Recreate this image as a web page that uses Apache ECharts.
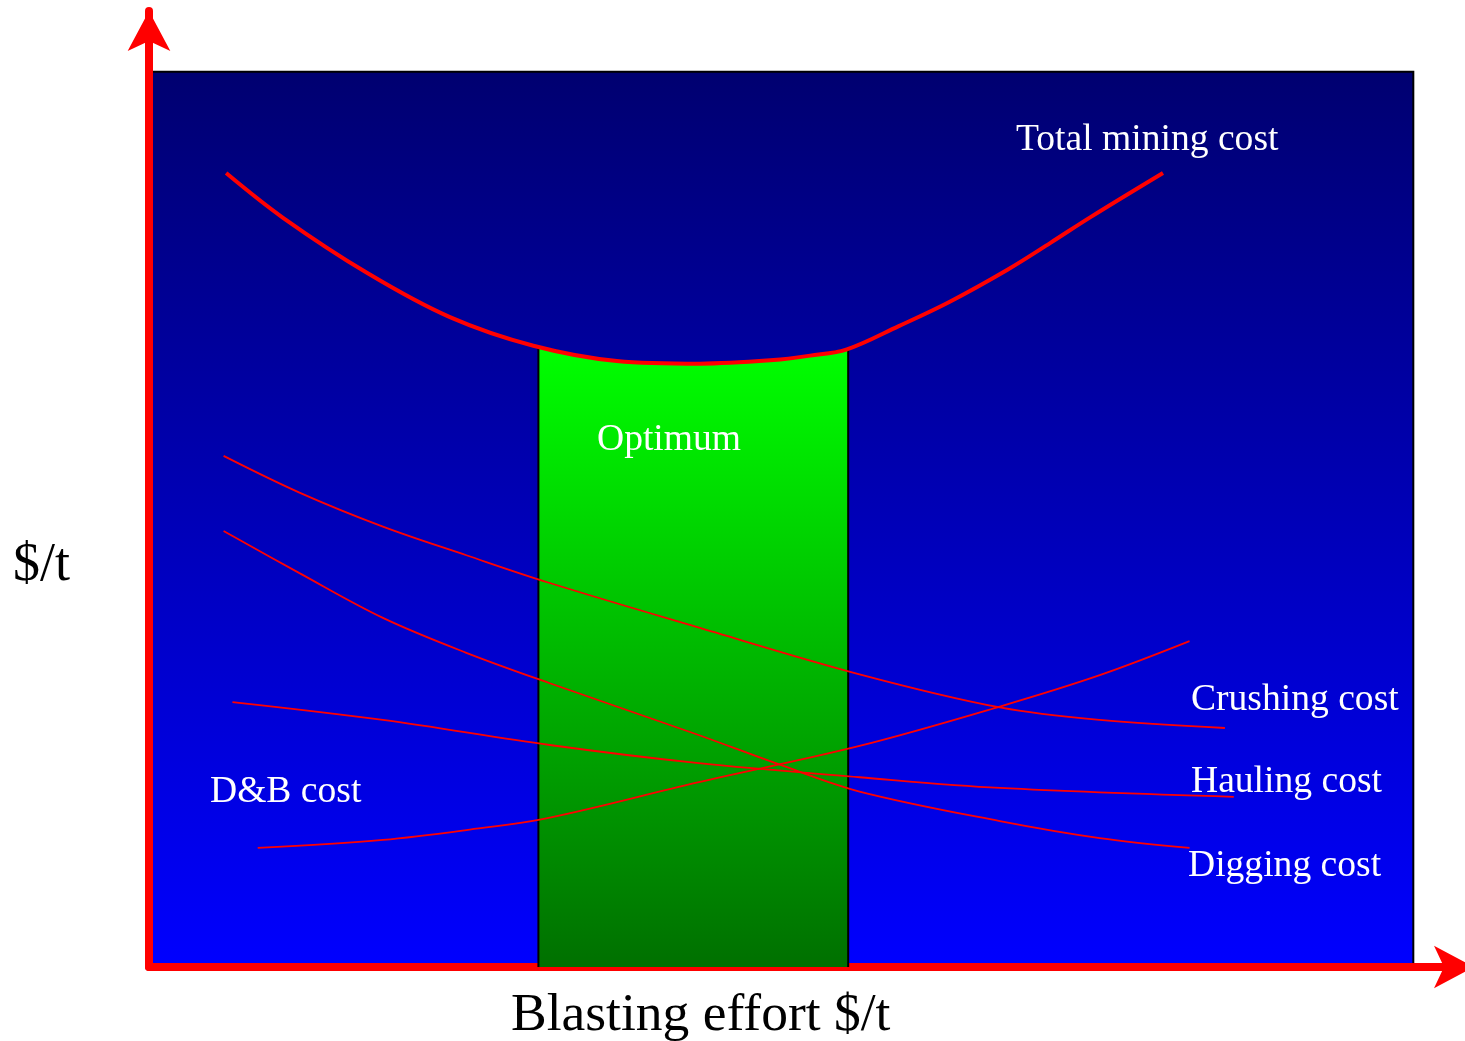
<!DOCTYPE html>
<html>
<head>
<meta charset="utf-8">
<title>Blasting effort vs. mining cost</title>
<script src="https://cdn.jsdelivr.net/npm/echarts@6/dist/echarts.min.js"></script>
<style>
  html, body { margin: 0; padding: 0; background: #ffffff; }
  #chart { width: 1465px; height: 1041px; }
</style>
</head>
<body>
<div id="chart"></div>
<script>
// Cost curves on a relative scale: x = blasting effort (0-100), y = $/t (0-100)
const totalCost    = [[6.1,88.7],[10.6,83.7],[17.3,77.5],[23.8,72.6],[30.4,69.4],[37.0,67.7],[43.6,67.4],[49.4,67.8],[52.3,68.3],[55.2,69.0],[59.3,71.6],[63.3,74.3],[67.9,77.9],[71.3,80.9],[74.5,83.8],[80.2,88.7]];
const crushingCost = [[5.9,57.1],[11.9,53.0],[18.5,49.2],[25.1,46.0],[31.7,42.9],[43.3,38.0],[56.2,32.7],[67.3,29.0],[75.2,27.6],[85.1,26.7]];
const diggingCost  = [[5.9,48.7],[11.9,44.0],[18.5,39.0],[25.1,35.1],[31.7,31.7],[43.3,26.0],[49.9,22.6],[56.2,19.6],[67.3,16.3],[75.2,14.4],[82.3,13.3]];
const haulingCost  = [[6.6,29.6],[18.5,27.6],[31.7,24.8],[43.3,22.8],[56.2,21.2],[67.3,20.0],[85.8,19.0]];
const dbCost       = [[8.6,13.3],[18.5,14.2],[25.1,15.3],[31.7,16.7],[43.3,20.6],[56.2,24.7],[67.3,29.1],[75.2,32.6],[82.3,36.4]];
// Optimum band: lower part of the total-cost bowl
const optimumBand  = [[30.8,69.3],[37.0,67.7],[43.6,67.4],[49.4,67.8],[52.3,68.3],[55.3,69.0]];
// Panel extent
const panelBox     = [0, 0, 100, 100];
// Axis ranges (axis lines run past the panel and end in arrows)
const xRange = [0, 104.8];
const yRange = [0, 106.8];

const SERIF = '"Liberation Serif", "Times New Roman", serif';
const SMOOTH = 0.35;

const chart = echarts.init(document.getElementById('chart'), null, { renderer: 'canvas' });

const bandLeft = optimumBand[0];
const bandRight = optimumBand[optimumBand.length - 1];

function thinLine(data) {
  return {
    type: 'line', data: data, smooth: SMOOTH, symbol: 'none', z: 4,
    lineStyle: { color: '#ff0000', width: 1.8 }, silent: true
  };
}

function label(text, x, y, size, color) {
  return {
    type: 'text', x: x, y: y, z: 100, silent: true,
    style: { text: text, font: size + 'px ' + SERIF, fill: color, align: 'left', verticalAlign: 'middle' }
  };
}

chart.setOption({
  animation: false,
  backgroundColor: '#ffffff',
  grid: { left: 149, width: 1325, top: 11, height: 956, containLabel: false, outerBoundsMode: 'none' },
  xAxis: {
    type: 'value', min: xRange[0], max: xRange[1],
    axisLine: { show: true, onZero: false, symbol: ['none', 'arrow'], symbolSize: [32, 40],
      lineStyle: { color: '#ff0000', width: 8 } },
    axisTick: { show: false }, axisLabel: { show: false }, splitLine: { show: false }
  },
  yAxis: {
    type: 'value', min: yRange[0], max: yRange[1],
    axisLine: { show: true, onZero: false, symbol: ['none', 'arrow'], symbolSize: [32, 40],
      lineStyle: { color: '#ff0000', width: 8 } },
    axisTick: { show: false }, axisLabel: { show: false }, splitLine: { show: false }
  },
  series: [
    {
      // dark-to-bright blue panel
      type: 'custom', z: 0, silent: true,
      data: [panelBox],
      renderItem: function (params, api) {
        const p0 = api.coord([api.value(0), api.value(3)]);
        const p1 = api.coord([api.value(2), api.value(1)]);
        return {
          type: 'rect',
          shape: { x: p0[0], y: p0[1], width: p1[0] - p0[0], height: p1[1] - p0[1] },
          style: {
            fill: new echarts.graphic.LinearGradient(0, 0, 0, 1, [
              { offset: 0, color: '#000070' },
              { offset: 1, color: '#0000ff' }
            ]),
            stroke: '#000000', lineWidth: 2
          }
        };
      }
    },
    {
      // optimum band
      type: 'line', data: optimumBand, smooth: SMOOTH, symbol: 'none', z: 2, silent: true,
      lineStyle: { color: '#000000', width: 2 },
      areaStyle: {
        origin: 'start', opacity: 1,
        color: new echarts.graphic.LinearGradient(0, 0, 0, 1, [
          { offset: 0, color: '#00ff00' },
          { offset: 1, color: '#007000' }
        ])
      }
    },
    {
      type: 'line', data: [[bandLeft[0], 0], bandLeft], symbol: 'none', z: 3, silent: true,
      lineStyle: { color: '#000000', width: 2 }
    },
    {
      type: 'line', data: [[bandRight[0], 0], bandRight], symbol: 'none', z: 3, silent: true,
      lineStyle: { color: '#000000', width: 2 }
    },
    thinLine(crushingCost),
    thinLine(diggingCost),
    thinLine(haulingCost),
    thinLine(dbCost),
    {
      type: 'line', data: totalCost, smooth: SMOOTH, symbol: 'none', z: 5, silent: true,
      lineStyle: { color: '#ff0000', width: 4 }
    }
  ],
  graphic: [
    label('Total mining cost', 1016, 140.5, 37.6, '#ffffff'),
    label('Optimum', 597, 440.5, 37.6, '#ffffff'),
    label('Crushing cost', 1191, 700.5, 37.6, '#ffffff'),
    label('Hauling cost', 1191, 782, 37.6, '#ffffff'),
    label('Digging cost', 1188, 866.5, 37.6, '#ffffff'),
    label('D&B cost', 210, 792.5, 37.6, '#ffffff'),
    label('$/t', 13, 566, 54, '#000000'),
    label('Blasting effort $/t', 511, 1016, 53.5, '#000000')
  ]
});
</script>
</body>
</html>
